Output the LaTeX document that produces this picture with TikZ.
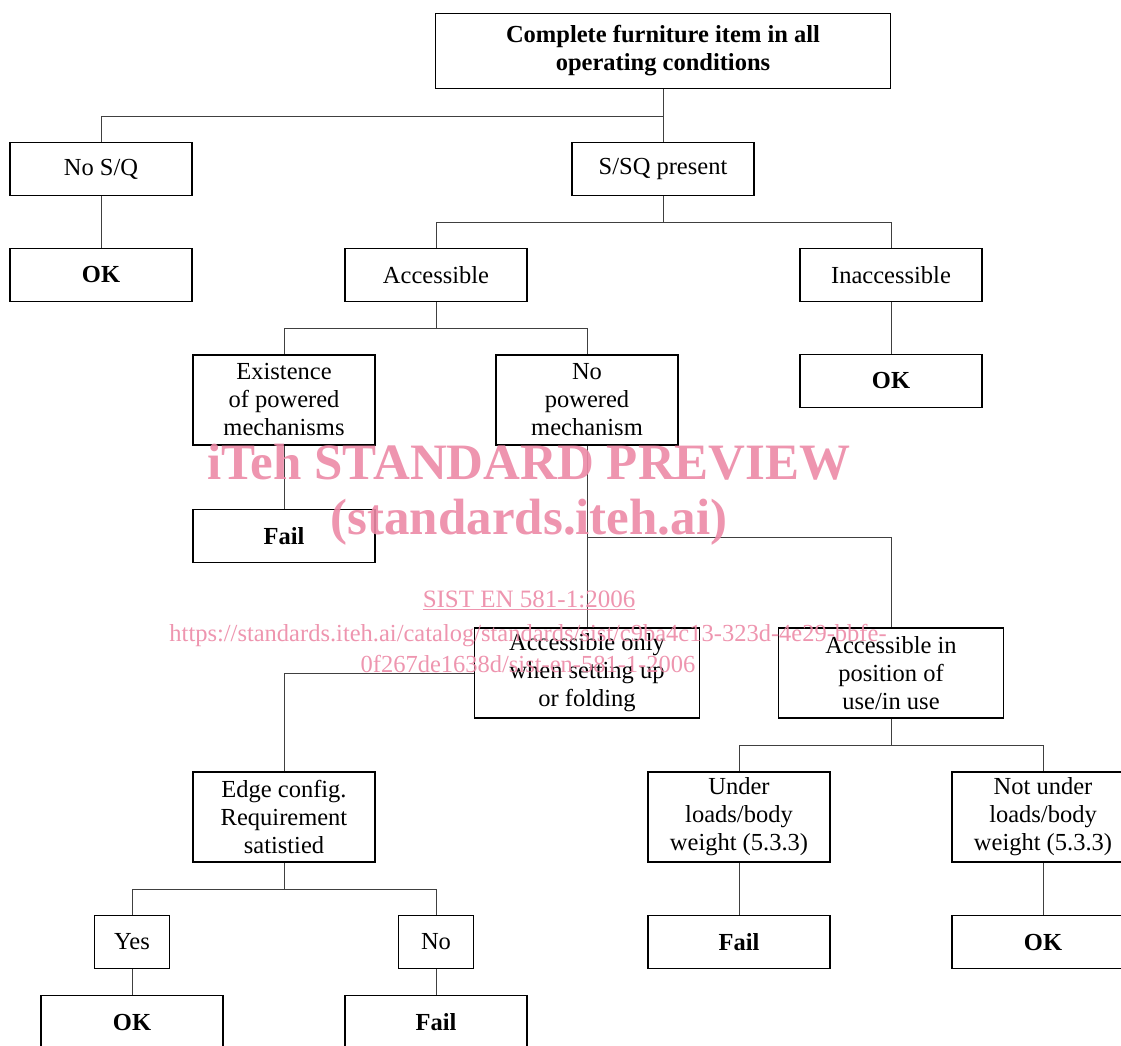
\documentclass[tikz,border=0pt]{standalone}
\usepackage{fontspec}
\setmainfont{Liberation Serif}
\usepackage{tikz}
\usetikzlibrary{calc}
\definecolor{wmpink}{RGB}{236,137,166}
\tikzset{box/.style={draw, line width=1.7pt, minimum width=182pt, minimum height=53pt, inner sep=0pt, align=center, font=\fontsize{24.5}{28}\selectfont}}
\tikzset{tall/.style={box, minimum height=90pt}}
\tikzset{res/.style={box, font=\fontsize{24.5}{28}\selectfont\bfseries}}
\tikzset{wire/.style={line width=0.9pt, black!75}}
\tikzset{wm/.style={text=wmpink, opacity=0.9, inner sep=0pt}}

\begin{document}
\begin{tikzpicture}[x=1pt,y=-1pt]
      \useasboundingbox (0,0) rectangle (1121,1046);
      \clip (0,0) rectangle (1121,1046);
      % level 0 and 1
      \node[box, minimum width=455pt, minimum height=75pt, font=\fontsize{24.5}{28}\selectfont\bfseries] (top) at (663,51) {Complete furniture item in all\\operating conditions};
      \node[box] (nosq) at (101,169) {No S/Q};
      \node[box] (ssq) at (663,169) {S/SQ present};
      \node[res] (ok1) at (101,275) {OK};
      \node[box] (acc) at (436,275) {Accessible};
      \node[box] (inacc) at (891,275) {Inaccessible};
      % powered or not
      \node[tall] (pow) at (284,400) {Existence\\of powered\\mechanisms};
      \node[tall] (nopow) at (587,400) {No\\powered\\mechanism};
      \node[res] (ok2) at (891,381) {OK};
      \node[res] (fail1) at (284,536) {Fail};
      \node[tall, minimum width=225pt] (fold) at (587,673) {Accessible only\\when setting up\\or folding};
      \node[tall, minimum width=225pt] (inuse) at (891,673) {Accessible in\\position of\\use/in use};
      % lower levels
      \node[tall] (edge) at (284,817) {Edge config.\\Requirement\\satistied};
      \node[tall] (load) at (739,817) {Under\\loads/body\\weight (5.3.3)};
      \node[tall] (noload) at (1043,817) {Not under\\loads/body\\weight (5.3.3)};
      \node[res] (fail2) at (739,942) {Fail};
      \node[res] (ok3) at (1043,942) {OK};
      \node[box, minimum width=75pt] (yes) at (132,942) {Yes};
      \node[box, minimum width=75pt] (no) at (436,942) {No};
      \node[res] (ok4) at (132,1022) {OK};
      \node[res] (fail3) at (436,1022) {Fail};

      % connectors
      \coordinate (j1) at (663,116);
      \coordinate (j2) at (663,222);
      \coordinate (j3) at (436,328);
      \coordinate (j4) at (587,537);
      \coordinate (j5) at (284,889);
      \coordinate (j6) at (891,745);
      \draw[wire] (top.south) -- (j1) -| (nosq.north);
      \draw[wire] (j1) -- (ssq.north);
      \draw[wire] (nosq) -- (ok1);
      \draw[wire] (ssq.south) -- (j2) -| (acc.north);
      \draw[wire] (j2) -| (inacc.north);
      \draw[wire] (inacc) -- (ok2);
      \draw[wire] (acc.south) -- (j3) -| (pow.north);
      \draw[wire] (j3) -| (nopow.north);
      \draw[wire] (pow) -- (fail1);
      \draw[wire] (nopow.south) -- (j4) -| (inuse.north);
      \draw[wire] (j4) -- (fold.north);
      \draw[wire] (fold.west) -| (edge.north);
      \draw[wire] (edge.south) -- (j5) -| (yes.north);
      \draw[wire] (j5) -| (no.north);
      \draw[wire] (yes) -- (ok4);
      \draw[wire] (no) -- (fail3);
      \draw[wire] (inuse.south) -- (j6) -| (load.north);
      \draw[wire] (j6) -| (noload.north);
      \draw[wire] (load) -- (fail2);
      \draw[wire] (noload) -- (ok3);

      % watermark
      \node[wm, font=\fontsize{51}{51}\selectfont\bfseries] (wm1) at (529,462) {iTeh STANDARD PREVIEW};
      \node[wm, font=\fontsize{51}{51}\selectfont\bfseries] (wm2) at (529,522) {(standards.iteh.ai)};
      \node[wm, font=\fontsize{25}{25}\selectfont] (wm3) at (529,600) {\underline{SIST EN 581-1:2006}};
      \node[wm, font=\fontsize{24.5}{31}\selectfont, align=center] (wm4) at (528,648) {https://standards.iteh.ai/catalog/standards/sist/c9ba4c13-323d-4e29-bbfe-\\0f267de1638d/sist-en-581-1-2006};
    \end{tikzpicture}
\end{document}
